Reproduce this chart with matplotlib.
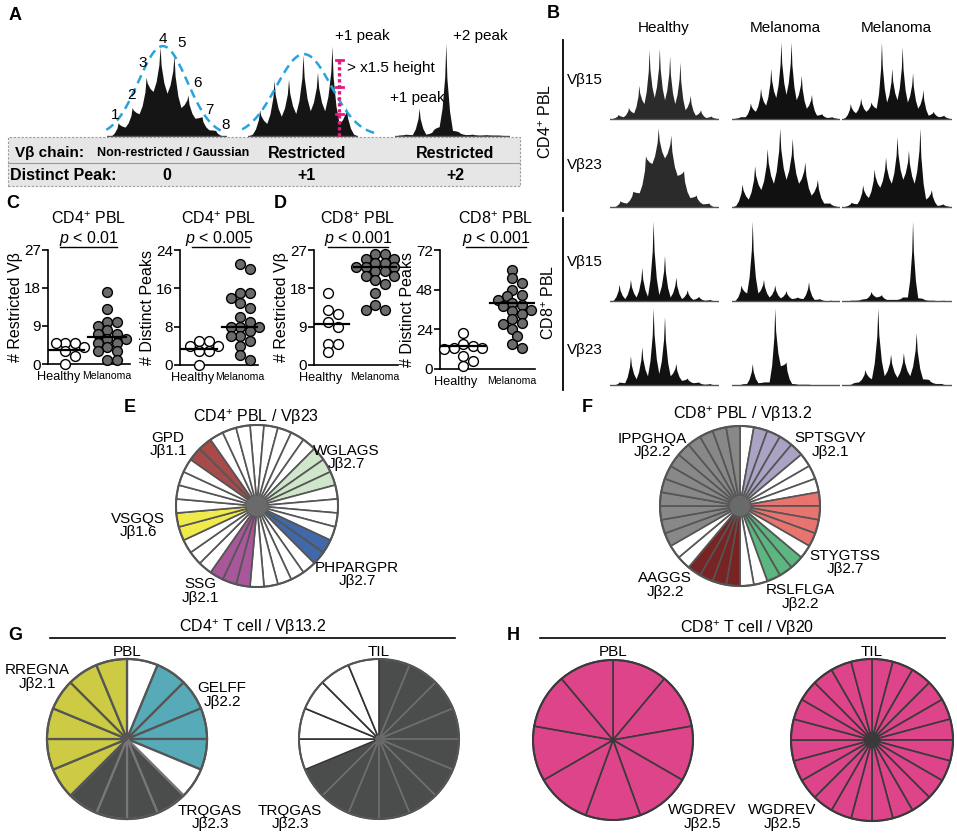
import numpy as np
import matplotlib
matplotlib.use('Agg')
import matplotlib.pyplot as plt
from matplotlib import font_manager
from matplotlib.patches import Circle, Rectangle
from matplotlib.lines import Line2D

W, H = 957, 835

plt.rcParams['font.family'] = ['Liberation Sans', 'DejaVu Sans']
plt.rcParams['mathtext.fontset'] = 'custom'
plt.rcParams['mathtext.rm'] = 'Liberation Sans'
plt.rcParams['mathtext.it'] = 'Liberation Sans:italic'
plt.rcParams['mathtext.bf'] = 'Liberation Sans:bold'

names = {f.name for f in font_manager.fontManager.ttflist}
HAS_NARROW = 'Liberation Sans Narrow' in names
NARROW = 'Liberation Sans Narrow' if HAS_NARROW else 'Liberation Sans'

# ---- panel A spectratypes (relative peak / valley heights)
a_gauss_peaks = [0.15, 0.32, 0.66, 1.0, 0.91, 0.46, 0.22, 0.06]
a_gauss_valleys = [0.0, 0.1, 0.25, 0.5, 0.48, 0.32, 0.2, 0.07, 0.0]
a_gauss_fit = (3.7, 1.75, 1.01)  # center, sigma, height
a_restr_peaks = [0.29, 0.62, 0.63, 0.90, 0.71, 1.0, 0.32]
a_restr_valleys = [0.02, 0.14, 0.22, 0.25, 0.28, 0.28, 0.14, 0.02]
a_restr_fit = (3.56, 1.9, 0.91)
a_two_peaks = [0.02, 0.30, 0.05, 1.0, 0.04, 0.02, 0.015, 0.01]
a_two_valleys = [0.01, 0.015, 0.02, 0.1, 0.06, 0.015, 0.01, 0.01, 0.005]
peak_numbers = ['1', '2', '3', '4', '5', '6', '7', '8']

# ---- panel B spectratypes: rows x (Healthy, Melanoma, Melanoma)
b_cols = ['Healthy', 'Melanoma', 'Melanoma']
b_rows = ['Vβ15', 'Vβ23', 'Vβ15', 'Vβ23']
cd4_vb15 = [
    ([0.06, 0.15, 0.44, 0.9, 0.92, 0.82, 0.74, 0.31, 0.12, 0.04],
     [0.01, 0.03, 0.08, 0.2, 0.28, 0.25, 0.2, 0.12, 0.05, 0.02, 0.01]),
    ([0.03, 0.21, 0.40, 0.66, 1.0, 1.0, 0.57, 0.32, 0.07, 0.03],
     [0.01, 0.03, 0.1, 0.18, 0.28, 0.32, 0.25, 0.14, 0.05, 0.02, 0.01]),
    ([0.2, 0.27, 0.22, 1.0, 0.66, 0.94, 0.6, 0.38, 0.1, 0.05],
     [0.02, 0.08, 0.1, 0.14, 0.22, 0.25, 0.22, 0.14, 0.05, 0.03, 0.01]),
]
cd4_vb23 = [
    ([0.08, 0.2, 0.65, 1.0, 0.91, 0.46, 0.15, 0.05],
     [0.0, 0.05, 0.18, 0.55, 0.62, 0.4, 0.12, 0.04, 0.0]),
    ([0.29, 0.52, 0.74, 1.0, 0.87, 0.57, 0.35, 0.05],
     [0.02, 0.1, 0.22, 0.3, 0.35, 0.3, 0.15, 0.05, 0.01]),
    ([0.06, 0.28, 0.48, 0.63, 0.89, 0.72, 1.0, 0.22, 0.04],
     [0.01, 0.04, 0.12, 0.25, 0.3, 0.35, 0.3, 0.1, 0.02, 0.01]),
]
cd8_vb15 = [
    ([0.21, 0.27, 0.42, 1.0, 0.57, 0.3, 0.14, 0.06, 0.02],
     [0.01, 0.03, 0.05, 0.06, 0.08, 0.05, 0.03, 0.02, 0.01, 0.0]),
    ([0.2, 1.0, 0.27, 0.2, 0.13, 0.05, 0.24, 0.03, 0.01],
     [0.01, 0.1, 0.1, 0.05, 0.04, 0.03, 0.03, 0.02, 0.005, 0.0]),
    ([0.01, 0.02, 0.12, 0.08, 0.02, 0.05, 1.0, 0.03, 0.01, 0.01],
     [0.0, 0.01, 0.03, 0.05, 0.02, 0.02, 0.05, 0.04, 0.01, 0.005, 0.0]),
]
cd8_vb23 = [
    ([0.04, 0.38, 0.5, 1.0, 0.89, 0.28, 0.09, 0.04, 0.02],
     [0.0, 0.03, 0.08, 0.12, 0.15, 0.12, 0.06, 0.03, 0.01, 0.0]),
    ([0.01, 0.28, 0.04, 1.0, 0.3, 0.01, 0.01, 0.005, 0.005],
     [0.0, 0.02, 0.03, 0.04, 0.25, 0.02, 0.01, 0.005, 0.0, 0.0]),
    ([0.02, 0.2, 1.0, 0.4, 0.42, 0.68, 0.07, 0.02],
     [0.0, 0.04, 0.08, 0.12, 0.1, 0.12, 0.08, 0.02, 0.0]),
]

# ---- panels C / D dot plots
c1_healthy = [5, 5, 5, 4, 3, 2, 0]
c1_melanoma = [17, 13, 10, 10, 9, 8, 7, 7, 6, 6, 5, 5, 4, 3, 3, 1, 1]
c1_lines = [3.4, 6.5]
c2_healthy = [5, 5, 4, 4, 3, 3, 0]
c2_melanoma = [21, 20, 15, 15, 14, 13, 12, 10, 9, 8, 8, 8, 7, 6, 6, 5, 4, 2, 1]
c2_lines = [3.4, 8.0]
d1_healthy = [17, 13, 12, 10, 9, 5, 5, 3]
d1_melanoma = [26, 26, 25, 25, 24, 24, 23, 23, 23, 22, 22, 21, 21, 20, 19, 17, 14, 13, 13]
d1_lines = [9.6, 22.9]
d2_healthy = [22, 15, 14, 13, 13, 12, 8, 5, 2]
d2_melanoma = [60, 55, 52, 48, 45, 44, 42, 40, 39, 38, 36, 35, 33, 30, 28, 27, 24, 20, 15, 13]
d2_lines = [14, 40]
groups = ['Healthy', 'Melanoma']

# ---- panels E-H clonotype pies: runs of (clone, number of sequences)
e_runs = [('', 5), ('WGLAGS', 3), ('', 4), ('PHPARGPR', 2), ('', 5), ('SSG', 3),
          ('', 3), ('VSGQS', 2), ('', 4), ('GPD', 2), ('', 3)]
f_runs = [('', 1), ('SPTSGVY', 4), ('', 3), ('STYGTSS', 4), ('', 1), ('RSLFLGA', 3),
          ('', 2), ('AAGGS', 4), ('', 2), ('IPPGHQA', 12)]
g_pbl_runs = [('', 1), ('GELFF', 4), ('', 1), ('TRQGAS', 4), ('RREGNA', 6)]
g_til_runs = [('TRQGAS', 11), ('', 5)]
h_pbl_runs = [('WGDREV', 9)]
h_til_runs = [('WGDREV', 24)]

clone_colors = {
    '': 'white',
    'GPD': '#a94a4a', 'WGLAGS': '#cfe6cb', 'PHPARGPR': '#4168a8',
    'SSG': '#a9579b', 'VSGQS': '#f0ea4c',
    'IPPGHQA': '#888888', 'SPTSGVY': '#aba3c4', 'STYGTSS': '#e8736f',
    'RSLFLGA': '#5bb67f', 'AAGGS': '#782424',
    'RREGNA': '#cccb43', 'GELFF': '#57abb9', 'TRQGAS': '#4b4c4c',
    'WGDREV': '#dd4489',
}

fig = plt.figure(figsize=(W / 100, H / 100), dpi=100)


def box(x, y, w, h):
    # pixel box, top-left origin -> figure fraction
    return [x / W, 1 - (y + h) / H, w / W, h / H]


def put(x, y, s, **kw):
    kw.setdefault('ha', 'center')
    kw.setdefault('va', 'center')
    kw.setdefault('fontsize', 10.5)
    fig.text(x / W, 1 - y / H, s, **kw)


def seg(x0, y0, x1, y1, **kw):
    fig.add_artist(Line2D([x0 / W, x1 / W], [1 - y0 / H, 1 - y1 / H], **kw))


def spectra(x0, x1, base, top, peaks, valleys, color='#151515'):
    s = base - top
    ax = fig.add_axes(box(x0, base - 1.12 * s, x1 - x0, 1.15 * s))
    ax.patch.set_visible(False)
    n = len(peaks)
    xs, ys = [-0.3, 0.0], [0.0, valleys[0]]
    for k, p in enumerate(peaks):
        lo, hi = valleys[k], valleys[k + 1]
        # concave spike: broad foot, narrow tip
        xs += [k + 0.22, k + 0.42, k + 0.5, k + 0.58, k + 0.78, k + 1.0]
        ys += [lo + 0.22 * (p - lo), lo + 0.6 * (p - lo), p,
               hi + 0.6 * (p - hi), hi + 0.22 * (p - hi), hi]
    xs.append(n + 0.3)
    ys.append(0.0)
    ax.fill_between(xs, ys, 0, color=color, lw=0)
    ax.plot([-0.3, n + 0.3], [0, 0], color='#555555', lw=1.0)
    ax.set_xlim(-0.3, n + 0.3)
    ax.set_ylim(-0.03, 1.12)
    ax.axis('off')
    return ax


def gauss(ax, fit, x0, x1):
    c, sg, h = fit
    gx = np.linspace(x0, x1, 200)
    ax.plot(gx, h * np.exp(-0.5 * ((gx - c) / sg) ** 2), color='#27a3dd', lw=1.8,
            dashes=(3.5, 2.2), clip_on=False)


# ================= panel A
put(15, 15, 'A', fontsize=13, fontweight='bold')
ax = spectra(107, 227, 136, 47, a_gauss_peaks, a_gauss_valleys)
gauss(ax, a_gauss_fit, -0.35, 8.2)
num_pos = [(115, 115), (132, 95), (143, 63), (163, 39), (182, 43), (198, 83), (209, 110), (226, 125)]
for lab, (x, y) in zip(peak_numbers, num_pos):
    put(x, y, lab, fontsize=11)

ax = spectra(248, 358, 136, 46, a_restr_peaks, a_restr_valleys)
gauss(ax, a_restr_fit, -0.7, 8.5)
mag = '#e2197f'
ax.plot([6.0, 6.0], [0, 0.84], color=mag, lw=2.4, ls=(0, (1, 0.8)), clip_on=False)
for yy in [0.84, 0.54, 0.25]:
    ax.plot([5.75, 6.25], [yy, yy], color=mag, lw=2.0, clip_on=False)
put(347, 68, '> x1.5 height', ha='left', fontsize=11)
put(362, 36, '+1 peak', fontsize=11)

spectra(395, 510, 136, 43, a_two_peaks, a_two_valleys)
put(480, 36, '+2 peak', fontsize=11)
put(417, 98, '+1 peak', fontsize=11)

fig.add_artist(Rectangle((8 / W, 1 - 186 / H), 512 / W, 49 / H, transform=fig.transFigure,
                         facecolor='#e6e6e6', edgecolor='#9a9a9a', lw=0.8, ls=(0, (2, 1.5))))
seg(8, 163, 520, 163, color='#9a9a9a', lw=0.8)
put(15, 153, 'Vβ chain:', ha='left', fontweight='bold', fontsize=11)
put(97, 153, 'Non-restricted / Gaussian', ha='left', fontweight='bold',
    family=NARROW, fontsize=10.5 if HAS_NARROW else 9)
put(307, 153, 'Restricted', fontweight='bold', fontsize=11.5)
put(455, 153, 'Restricted', fontweight='bold', fontsize=11.5)
put(10, 175, 'Distinct Peak:', ha='left', fontweight='bold', fontsize=11.5)
put(167, 175, '0', fontweight='bold', fontsize=11.5)
put(307, 175, '+1', fontweight='bold', fontsize=11.5)
put(455, 175, '+2', fontweight='bold', fontsize=11.5)

# ================= panel B
put(553, 13, 'B', fontsize=13, fontweight='bold')
col_x = [(610, 719), (732, 840), (842, 952)]
for (x0, x1), lab in zip(col_x, b_cols):
    put((x0 + x1) / 2 - 1, 28, lab, fontsize=11)
row_y = [(119, 42), (207, 128), (301, 221), (385, 308)]
row_lab_y = [80, 165, 262, 350]
for r, data in enumerate([cd4_vb15, cd4_vb23, cd8_vb15, cd8_vb23]):
    base, top = row_y[r]
    for c, (pk, vl) in enumerate(data):
        x0, x1 = col_x[c]
        spectra(x0, x1, base, top, pk, vl, color='#2b2b2b' if (r < 2 and c == 0) else '#111111')
    put(567, row_lab_y[r], b_rows[r], ha='left', fontsize=11)
seg(563, 40, 563, 211, color='black', lw=1.3)
seg(563, 218, 563, 390, color='black', lw=1.3)
put(546, 121, 'CD4$^{+}$ PBL', rotation=90, fontsize=11.5)
put(549, 302, 'CD8$^{+}$ PBL', rotation=90, fontsize=11.5)


# ================= panels C / D
def swarm(vals, xc, sx, sy, d):
    placed, out = [], []
    cands = [0.0] + [sg * j * d * 0.5 for j in range(1, 12) for sg in (1, -1)]
    for v in vals:
        for c in cands:
            if all((c - px) ** 2 + ((v - pv) * sy) ** 2 >= (0.82 * d) ** 2 for px, pv in placed):
                break
        placed.append((c, v))
        out.append(xc + c / sx)
    return out


def dotplot(xa, xe, y0, yt, ymax, step, healthy, melanoma, lines, ylabel, hpx, mpx):
    ax = fig.add_axes(box(xa, yt, xe - xa, y0 - yt))
    ax.patch.set_visible(False)
    s = mpx - hpx
    ax.set_xlim(-(hpx - xa) / s, (xe - hpx) / s)
    ax.set_ylim(0, ymax)
    sy = (y0 - yt) / ymax
    for i, (vals, fc) in enumerate([(healthy, 'white'), (melanoma, '#6b6b6b')]):
        xs = swarm(vals, i, s, sy, 9.5)
        ax.scatter(xs, vals, s=50, facecolor=fc, edgecolor='black', linewidths=1.0,
                   zorder=3, clip_on=False)
        ax.plot([i - 0.45, i + 0.45], [lines[i]] * 2, color='black', lw=1.6, zorder=4)
    ax.spines[['top', 'right']].set_visible(False)
    for sp in ['left', 'bottom']:
        ax.spines[sp].set_linewidth(1.2)
    ax.set_yticks(np.arange(0, ymax + 1, step))
    ax.tick_params(axis='y', length=4, width=1.2, pad=1, labelsize=11)
    ax.set_xticks([-0.15, 1])
    ax.set_xticklabels(groups)
    ax.tick_params(axis='x', length=0, pad=5)
    tl = ax.get_xticklabels()
    tl[0].set_fontsize(9.2)
    tl[1].set_fontsize(8.8 if HAS_NARROW else 7.6)
    tl[1].set_family(NARROW)
    ax.set_ylabel(ylabel, fontsize=11.5, labelpad=1)
    return ax


put(13, 203, 'C', fontsize=13, fontweight='bold')
put(280, 203, 'D', fontsize=13, fontweight='bold')
dotplot(48, 130, 364, 250, 27, 9, c1_healthy, c1_melanoma, c1_lines, '# Restricted Vβ', 65, 107)
dotplot(180, 258, 365, 250, 24, 8, c2_healthy, c2_melanoma, c2_lines, '# Distinct Peaks', 199, 240)
dotplot(314, 398, 365, 250, 27, 9, d1_healthy, d1_melanoma, d1_lines, '# Restricted Vβ', 328, 375)
dotplot(440, 535, 369, 250, 72, 24, d2_healthy, d2_melanoma, d2_lines, '# Distinct Peaks', 463, 512)

for xc, title, pv, (u0, u1) in [(89, 'CD4$^{+}$ PBL', '$p$ < 0.01', (60, 117)),
                                (219, 'CD4$^{+}$ PBL', '$p$ < 0.005', (192, 249)),
                                (358, 'CD8$^{+}$ PBL', '$p$ < 0.001', (328, 388)),
                                (496, 'CD8$^{+}$ PBL', '$p$ < 0.001', (466, 526))]:
    put(xc, 219, title, fontsize=11.5)
    put(xc, 239, pv, fontsize=11.5)
    seg(u0, 247, u1, 247, color='black', lw=1.0)


# ================= panels E-H
def pie(cx, cy, r, runs, start, edge='#555555', lw=1.2, hub=None, hub_r=0.12,
        dark_edge=None, rim='#555555'):
    pad = 4
    ax = fig.add_axes(box(cx - r - pad, cy - r - pad, 2 * (r + pad), 2 * (r + pad)))
    ax.patch.set_visible(False)
    clones = [c for c, k in runs for _ in range(k)]
    wedges, _ = ax.pie(np.ones(len(clones)), colors=[clone_colors[c] for c in clones],
                       startangle=start, counterclock=False,
                       wedgeprops=dict(edgecolor=edge, linewidth=lw))
    if dark_edge is not None:
        for wdg, c in zip(wedges, clones):
            if c == 'TRQGAS':
                wdg.set_edgecolor(dark_edge)
    ax.add_patch(Circle((0, 0), 1, fill=False, edgecolor=rim, lw=1.5, zorder=5))
    if hub is not None:
        ax.add_patch(Circle((0, 0), hub_r, color=hub, zorder=6))
    lim = (r + pad) / r
    ax.set_xlim(-lim, lim)
    ax.set_ylim(-lim, lim)
    ax.set_aspect('equal')
    return ax


def label(x, y, clone, j):
    put(x, y - 6.5, clone, fontsize=11)
    put(x, y + 7, j, fontsize=11)


put(130, 407, 'E', fontsize=13, fontweight='bold')
put(256, 417, 'CD4$^{+}$ PBL / Vβ23', fontsize=11.5)
pie(257, 506, 81, e_runs, 95, hub='#6a6a6a')
label(168, 444, 'GPD', 'Jβ1.1')
label(346, 457, 'WGLAGS', 'Jβ2.7')
label(138, 525, 'VSGQS', 'Jβ1.6')
label(200, 591, 'SSG', 'Jβ2.1')
label(357, 574, 'PHPARGPR', 'Jβ2.7')

put(587, 407, 'F', fontsize=13, fontweight='bold')
put(743, 414, 'CD8$^{+}$ PBL / Vβ13.2', fontsize=11.5)
pie(740, 506, 80, f_runs, 90, hub='#6a6a6a')
label(652, 445, 'IPPGHQA', 'Jβ2.2')
label(830, 445, 'SPTSGVY', 'Jβ2.1')
label(845, 562, 'STYGTSS', 'Jβ2.7')
label(665, 585, 'AAGGS', 'Jβ2.2')
label(800, 597, 'RSLFLGA', 'Jβ2.2')

put(15, 635, 'G', fontsize=13, fontweight='bold')
put(253, 627, 'CD4$^{+}$ T cell / Vβ13.2', fontsize=11.5)
seg(50, 638, 455, 638, color='black', lw=1.2)
put(127, 652, 'PBL', fontsize=11)
put(379, 652, 'TIL', fontsize=11)
pie(127, 739, 80, g_pbl_runs, 90, edge='#555555', lw=1.6, dark_edge='#777777')
pie(379, 739, 80, g_til_runs, 90, edge='#333333', lw=1.2, dark_edge='#6e6e6e',
    hub='#666666', hub_r=0.04)
label(37, 677, 'RREGNA', 'Jβ2.1')
label(222, 695, 'GELFF', 'Jβ2.2')
label(210, 817, 'TRQGAS', 'Jβ2.3')
label(290, 817, 'TRQGAS', 'Jβ2.3')

put(513, 635, 'H', fontsize=13, fontweight='bold')
put(747, 628, 'CD8$^{+}$ T cell / Vβ20', fontsize=11.5)
seg(540, 638, 945, 638, color='black', lw=1.2)
put(613, 652, 'PBL', fontsize=11)
put(872, 652, 'TIL', fontsize=11)
pie(613, 740, 80, h_pbl_runs, 90, edge='#3a3a3a', lw=1.2, rim='#3a3a3a')
pie(872, 740, 81, h_til_runs, 90, edge='#3a3a3a', lw=1.2, rim='#3a3a3a',
    hub='#3a3a3a', hub_r=0.09)
label(702, 817, 'WGDREV', 'Jβ2.5')
label(782, 817, 'WGDREV', 'Jβ2.5')

fig.savefig('out.png', dpi=100)
